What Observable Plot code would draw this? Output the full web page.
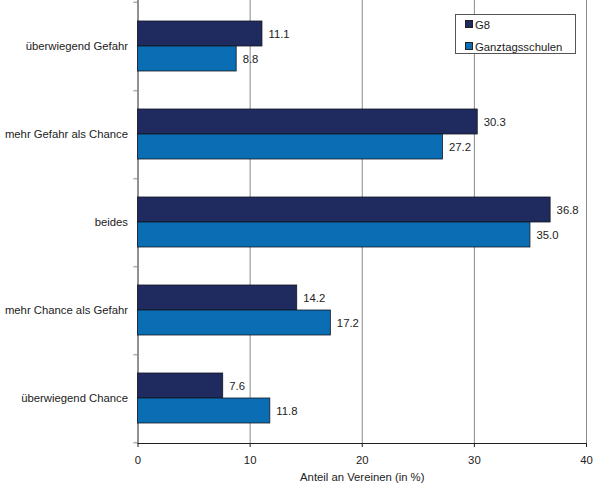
<!DOCTYPE html>
<html>
<head>
<meta charset="utf-8">
<script src="https://cdn.jsdelivr.net/npm/d3@7"></script>
<script src="https://cdn.jsdelivr.net/npm/@observablehq/plot@0.6"></script>
<style>
  body { margin: 0; background: #fff; font-family: "Liberation Sans", Arial, sans-serif; }
  #chart { position: relative; width: 595px; height: 489px; }
  .legend { position: absolute; left: 455px; top: 14px; width: 119px; height: 38px;
    border: 1px solid #555; background: #fff; font-size: 11.3px; color: #222; }
  .legend div { position: absolute; left: 9px; line-height: 12px; }
  .legend span { display: inline-block; width: 6px; height: 6px; border: 0.5px solid #222;
    margin-right: 2px; vertical-align: 1px; }
</style>
</head>
<body>
<div id="chart"></div>
<script>
const categories = ["überwiegend Gefahr", "mehr Gefahr als Chance", "beides", "mehr Chance als Gefahr", "überwiegend Chance"]
const seriesNames = ["G8", "Ganztagsschulen"]
const g8 = [11.1, 30.3, 36.8, 14.2, 7.6]
const ganztag = [8.8, 27.2, 35.0, 17.2, 11.8]
const xTicks = [0, 10, 20, 30, 40]
const xLabel = "Anteil an Vereinen (in %)"
const colors = ["#1f2b5e", "#0b6db3"]

const rowsG8 = categories.map((c, i) => ({category: c, series: seriesNames[0], value: g8[i]}))
const rowsGT = categories.map((c, i) => ({category: c, series: seriesNames[1], value: ganztag[i]}))

let chart = Plot.plot({
  width: 595,
  height: 489,
  marginLeft: 137.5,
  marginRight: 9,
  marginTop: 0,
  marginBottom: 46,
  style: {fontFamily: "Liberation Sans, Arial, sans-serif", fontSize: "11.3px", color: "#222", background: "#fff", overflow: "visible"},
  x: {
    domain: [0, 40],
    ticks: xTicks,
    tickSize: 4,
    tickPadding: 8,
    line: true,
    label: null
  },
  y: {
    domain: categories,
    paddingInner: 0.436,
    paddingOuter: 0.218,
    tickSize: 0,
    tickPadding: 10,
    label: null,
    line: true
  },
  marks: [
    // gitterlinien
    Plot.ruleX(xTicks.filter(d => d > 0), {stroke: "#8a8a8a", strokeWidth: 1}),
    // kleine striche zwischen den gruppen
    Plot.ruleY(categories, {y: d => d, x1: -0.36, x2: 0, dy: 44.3, stroke: "#8a8a8a"}),
    Plot.ruleY(categories.slice(0, 1), {y: d => d, x1: -0.36, x2: 0, dy: -44.3, stroke: "#8a8a8a"}),
    Plot.barX(rowsG8, {x: "value", y: "category", fill: colors[0], stroke: "#151820", strokeWidth: 0.8, insetBottom: 25}),
    Plot.barX(rowsGT, {x: "value", y: "category", fill: colors[1], stroke: "#151820", strokeWidth: 0.8, insetTop: 25}),
    Plot.text(rowsG8, {x: "value", y: "category", text: d => d.value.toFixed(1), dx: 6, dy: -12.5, textAnchor: "start", fill: "#222"}),
    Plot.text(rowsGT, {x: "value", y: "category", text: d => d.value.toFixed(1), dx: 6, dy: 12.5, textAnchor: "start", fill: "#222"}),
    // achsentitel
    Plot.text([xLabel], {frameAnchor: "bottom", text: d => d, dy: 37, fill: "#222"})
  ]
})

d3.select('#chart').append(() => chart)

/* Legende oben rechts */
const legend = d3.select('#chart').append('div').attr('class', 'legend')
seriesNames.forEach((s, i) => {
  const item = legend.append('div').style('top', (4 + i * 22) + 'px')
  item.append('span').style('background', colors[i])
  item.append('text').text(s)
})
</script>
</body>
</html>
